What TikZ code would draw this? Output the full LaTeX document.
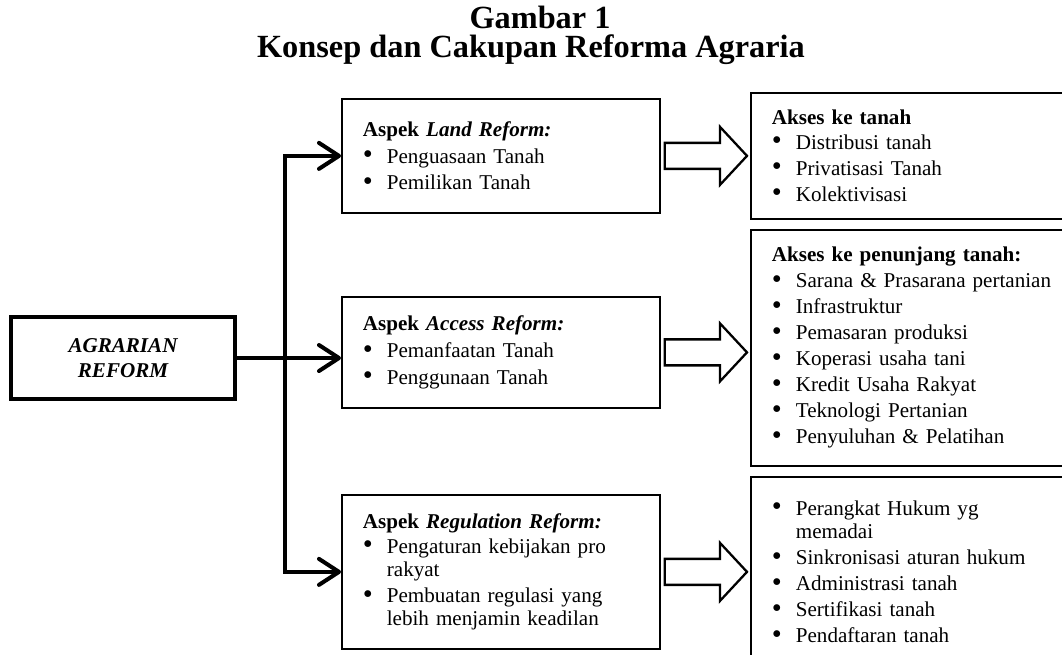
\documentclass[tikz,border=0pt]{standalone}
\usepackage{fontspec}
\setmainfont{Liberation Serif}
\usetikzlibrary{arrows.meta,calc}

\newcommand{\itembul}{\makebox[0.48cm][l]{\raisebox{-0.3pt}{\scalebox{1.35}{\textbullet}}}}
\newcommand{\itemcont}{\hspace*{0.48cm}}
% open block arrow between two boxes
\newcommand{\hollowarrow}[2]{%
  \draw[hollow] let \p1 = (#1.east), \p2 = (#2.west) in
    (\x1+0.08cm,\y1+0.26cm) -- (\x2-0.6cm,\y1+0.26cm) -- (\x2-0.6cm,\y1+0.58cm)
    -- (\x2-0.06cm,\y1) -- (\x2-0.6cm,\y1-0.58cm) -- (\x2-0.6cm,\y1-0.26cm)
    -- (\x1+0.08cm,\y1-0.26cm) -- cycle;}

\tikzset{
  txt/.style={font=\fontsize{12pt}{13.1pt}\selectfont},
  box/.style={draw, line width=1pt, anchor=north west, inner xsep=0.42cm, inner ysep=0pt, align=left, txt},
  flow/.style={line width=2.3pt, >={Straight Barb[length=0.4cm,width=0.52cm,round]}},
  hollow/.style={line width=1.3pt, line join=miter},
  heading/.style={font=\fontsize{18.4pt}{20pt}\selectfont\bfseries, anchor=base, inner sep=0pt}
}

\begin{document}
\begin{tikzpicture}[x=0.02cm, y=-0.02cm]

  \useasboundingbox (0, 0) rectangle (1062, 654);

  \node[heading] (fig) at (540, 28) {Gambar 1};
  \node[heading] (caption) at (531, 57) {Konsep dan Cakupan Reforma Agraria};

  \node[draw, line width=2.3pt, anchor=north west, minimum width=4.48cm, minimum height=1.64cm,
        align=center, font=\fontsize{12pt}{14.2pt}\selectfont\bfseries\itshape] (agr) at (9, 315)
        {AGRARIAN\\REFORM};

  \node[box, text width=5.52cm, minimum height=2.28cm] (land) at (341, 98)
        {\textbf{Aspek \textit{Land Reform:}}\\[2.2pt]
         \itembul Penguasaan Tanah\\[2.2pt]
         \itembul Pemilikan Tanah};
  \node[box, text width=5.52cm, minimum height=2.22cm] (access) at (341, 296)
        {\textbf{Aspek \textit{Access Reform:}}\\[2.2pt]
         \itembul Pemanfaatan Tanah\\[2.2pt]
         \itembul Penggunaan Tanah};
  \node[box, text width=5.52cm, minimum height=3.08cm] (reg) at (341, 494)
        {\textbf{Aspek \textit{Regulation Reform:}}\\[1pt]
         \itembul Pengaturan kebijakan pro\\
         \itemcont rakyat\\[2pt]
         \itembul Pembuatan regulasi yang\\
         \itemcont lebih menjamin keadilan};

  \node[box, text width=5.96cm, minimum height=2.52cm] (r1) at (750, 92)
        {\textbf{Akses ke tanah}\\[1pt]
         \itembul Distribusi tanah\\[1.7pt]
         \itembul Privatisasi Tanah\\[1.7pt]
         \itembul Kolektivisasi};
  \node[box, text width=5.96cm, minimum height=4.72cm] (r2) at (750, 229)
        {\textbf{Akses ke penunjang tanah:}\\[1.7pt]
         \itembul Sarana \& Prasarana pertanian\\[1.7pt]
         \itembul Infrastruktur\\[1.7pt]
         \itembul Pemasaran produksi\\[1.7pt]
         \itembul Koperasi usaha tani\\[1.7pt]
         \itembul Kredit Usaha Rakyat\\[1.7pt]
         \itembul Teknologi Pertanian\\[1.7pt]
         \itembul Penyuluhan \& Pelatihan};
  \node[box, text width=5.96cm, minimum height=3.8cm] (r3) at (750, 476)
        {\itembul Perangkat Hukum yg\\
         \itemcont memadai\\[2pt]
         \itembul Sinkronisasi aturan hukum\\[1.7pt]
         \itembul Administrasi tanah\\[1.7pt]
         \itembul Sertifikasi tanah\\[1.7pt]
         \itembul Pendaftaran tanah};

  \draw[flow, ->] (agr.east) -- (agr.east -| access.west);
  \draw[flow, <->] (land.west) -| (285, 356) |- (reg.west);

  \hollowarrow{land}{r1}
  \hollowarrow{access}{r2}
  \hollowarrow{reg}{r3}

\end{tikzpicture}
\end{document}
